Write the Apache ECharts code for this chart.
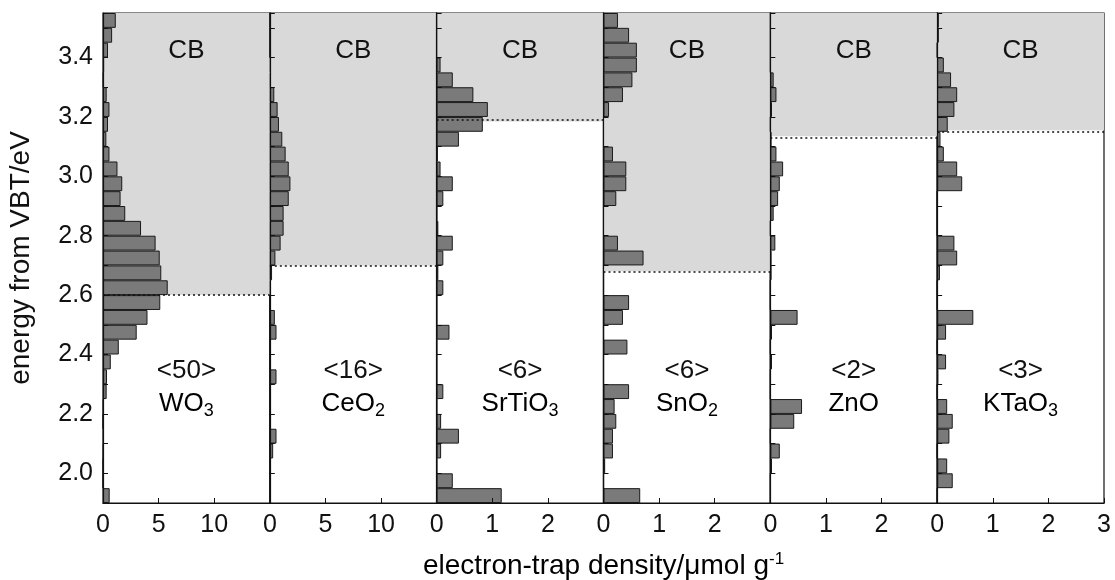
<!DOCTYPE html>
<html>
<head>
<meta charset="utf-8">
<script src="https://cdn.jsdelivr.net/npm/echarts@6/dist/echarts.min.js"></script>
<style>
  html, body { margin: 0; padding: 0; background: #fff; }
  #chart { width: 1115px; height: 580px; }
</style>
</head>
<body>
<div id="chart"></div>
<script>
// energy bins (0.05 eV wide), bin centres from the bottom up
var bins = ['1.925','1.975','2.025','2.075','2.125','2.175','2.225','2.275','2.325','2.375',
            '2.425','2.475','2.525','2.575','2.625','2.675','2.725','2.775','2.825','2.875',
            '2.925','2.975','3.025','3.075','3.125','3.175','3.225','3.275','3.325','3.375',
            '3.425','3.475','3.525'];

// electron-trap density per bin (µmol g-1), same order as bins
var wo3    = [0.6,0,0,0.05,0.08,0,0.05,0.33,0.36,0.7, 1.42,3.03,4.0,5.15,5.82,5.24,5.1,4.73,3.42,2.0, 1.58,1.73,1.3,0.58,0.3,0.45,0.58,0.33,0.05,0.1, 0.45,0.82,1.15];
var ceo2   = [0.05,0.05,0.1,0.3,0.6,0.05,0,0.1,0.6,0.05, 0,0.6,0.45,0.05,0.1,0.2,0.5,0.97,1.24,1.24, 1.7,1.85,1.7,1.42,1.12,0.82,0.7,0.4,0.1,0.1, 0,0,0];
var srtio3 = [1.17,0.29,0,0.08,0.4,0.08,0,0.12,0,0, 0,0.23,0,0,0.12,0.03,0.12,0.29,0.03,0, 0.12,0.29,0.07,0.02,0.4,0.83,0.92,0.66,0.29,0.07, 0,0,0];
var sno2   = [0.66,0,0.03,0.17,0.17,0.23,0.2,0.46,0,0, 0.43,0,0.35,0.46,0,0,0.72,0.26,0,0, 0.23,0.41,0.41,0.17,0,0,0.1,0.35,0.52,0.6, 0.6,0.46,0.26];
var zno    = [0,0,0.03,0.17,0,0.43,0.57,0,0,0.03, 0,0.03,0.49,0,0,0.02,0.02,0.09,0,0.06, 0.14,0.17,0.23,0.11,0.02,0,0.03,0.11,0.06,0, 0,0,0];
var ktao3  = [0,0.28,0.18,0,0.22,0.28,0.18,0,0.02,0.16, 0,0.16,0.65,0,0,0.05,0.36,0.31,0,0, 0,0.45,0.36,0.12,0.06,0.19,0.31,0.36,0.25,0.12, 0,0.03,0.03];

var names    = ['WO', 'CeO', 'SrTiO', 'SnO', 'ZnO', 'KTaO'];
var subs     = ['3', '2', '3', '2', '', '3'];
var counts   = ['<50>', '<16>', '<6>', '<6>', '<2>', '<3>'];
var cbEdge   = [2.60, 2.70, 3.185, 2.68, 3.135, 3.155];   // conduction band edge (eV)
var xMax     = [15, 15, 3, 3, 3, 3];
var xStep    = [5, 5, 1, 1, 1, 1];
var yMin = 1.9, yMax = 3.55;
var panels = [wo3, ceo2, srtio3, sno2, zno, ktao3];

var FONT = '"Liberation Sans", Arial, sans-serif';
var left0 = 103, right0 = 1104, top0 = 13, bottom0 = 503;
var pw = (right0 - left0) / 6;

var grids = [], xAxes = [], yAxes = [], series = [], graphics = [];

for (var i = 0; i < 6; i++) {
  grids.push({
    left: left0 + i * pw, width: pw, top: top0, height: bottom0 - top0,
    show: true, borderColor: '#111', borderWidth: 1.2, backgroundColor: 'transparent'
  });
  (function (i) {
    xAxes.push({
      gridIndex: i, type: 'value', min: 0, max: xMax[i], interval: xStep[i], z: 5,
      axisLine: { show: true, lineStyle: { color: '#111', width: 1.2 } },
      axisTick: { show: true, inside: true, length: 5, lineStyle: { color: '#111' } },
      splitLine: { show: false },
      axisLabel: {
        margin: 10, fontSize: 25, color: '#111', fontFamily: FONT,
        formatter: function (v) {
          if (i < 5 && v === xMax[i]) return '';
          return String(v);
        }
      }
    });
  })(i);
  yAxes.push({
    gridIndex: i, type: 'value', min: yMin, max: yMax, interval: 0.1, z: 5,
    name: i === 0 ? 'energy from VBT/eV' : '',
    nameLocation: 'middle', nameGap: 68,
    nameTextStyle: { fontSize: 28, color: '#111', fontFamily: FONT },
    axisLine: { show: true, lineStyle: { color: '#111', width: 1.2 } },
    axisTick: { show: true, inside: true, length: 5, lineStyle: { color: '#111' } },
    splitLine: { show: false },
    axisLabel: {
      show: i === 0, margin: 10, fontSize: 25, color: '#111', fontFamily: FONT,
      formatter: function (v) {
        var t = Math.round(v * 10);
        if (Math.abs(v * 10 - t) > 1e-6 || t % 2 !== 0 || v < 1.95 || v > 3.45) return '';
        return v.toFixed(1);
      }
    }
  });
}
for (var i = 0; i < 6; i++) {
  yAxes.push({ gridIndex: i, type: 'category', data: bins, show: false, boundaryGap: true });
}

for (var i = 0; i < 6; i++) {
  // conduction band shading + dotted edge line
  series.push({
    type: 'line', data: [], xAxisIndex: i, yAxisIndex: i, z: 1, silent: true,
    markArea: {
      silent: true,
      itemStyle: { color: '#d9d9d9' },
      data: [[{ yAxis: cbEdge[i] }, { yAxis: yMax }]]
    },
    markLine: {
      silent: true, symbol: 'none', animation: false,
      label: { show: false },
      lineStyle: { type: [2, 3], color: '#111', width: 1.5 },
      data: [{ yAxis: cbEdge[i] }]
    }
  });
  series.push({
    type: 'bar', data: panels[i], xAxisIndex: i, yAxisIndex: 6 + i, z: 3,
    barCategoryGap: '0%', barGap: '0%',
    itemStyle: { color: '#7a7a7a', borderColor: '#1a1a1a', borderWidth: 1 }
  });

  var cx = left0 + (i + 0.5) * pw;
  graphics.push({
    type: 'text', x: cx, y: 51, z: 100,
    style: { text: 'CB', font: '26px ' + FONT, fill: '#111', align: 'center', verticalAlign: 'middle' }
  });
  graphics.push({
    type: 'text', x: cx, y: 371, z: 100,
    style: { text: counts[i], font: '26px ' + FONT, fill: '#111', align: 'center', verticalAlign: 'middle' }
  });
  graphics.push({
    type: 'text', x: cx, y: 404, z: 100,
    style: {
      text: '{m|' + names[i] + '}' + (subs[i] ? '{s|' + subs[i] + '}' : ''),
      align: 'center', verticalAlign: 'middle',
      rich: {
        m: { fontSize: 26, fontFamily: FONT, color: '#111', lineHeight: 32, verticalAlign: 'middle' },
        s: { fontSize: 18, fontFamily: FONT, color: '#111', lineHeight: 12, verticalAlign: 'bottom' }
      }
    }
  });
}

graphics.push({
  type: 'text', x: (left0 + right0) / 2, y: 566, z: 100,
  style: {
    text: '{t|electron-trap density/μmol g}{p|-1}',
    align: 'center', verticalAlign: 'middle',
    rich: {
      t: { fontSize: 28, fontFamily: FONT, color: '#111', lineHeight: 30, verticalAlign: 'middle' },
      p: { fontSize: 17, fontFamily: FONT, color: '#111', lineHeight: 12, verticalAlign: 'top' }
    }
  }
});

var chart = echarts.init(document.getElementById('chart'), null, { renderer: 'canvas' });
chart.setOption({
  animation: false,
  backgroundColor: '#fff',
  grid: grids,
  xAxis: xAxes,
  yAxis: yAxes,
  series: series,
  graphic: graphics
});
</script>
</body>
</html>
